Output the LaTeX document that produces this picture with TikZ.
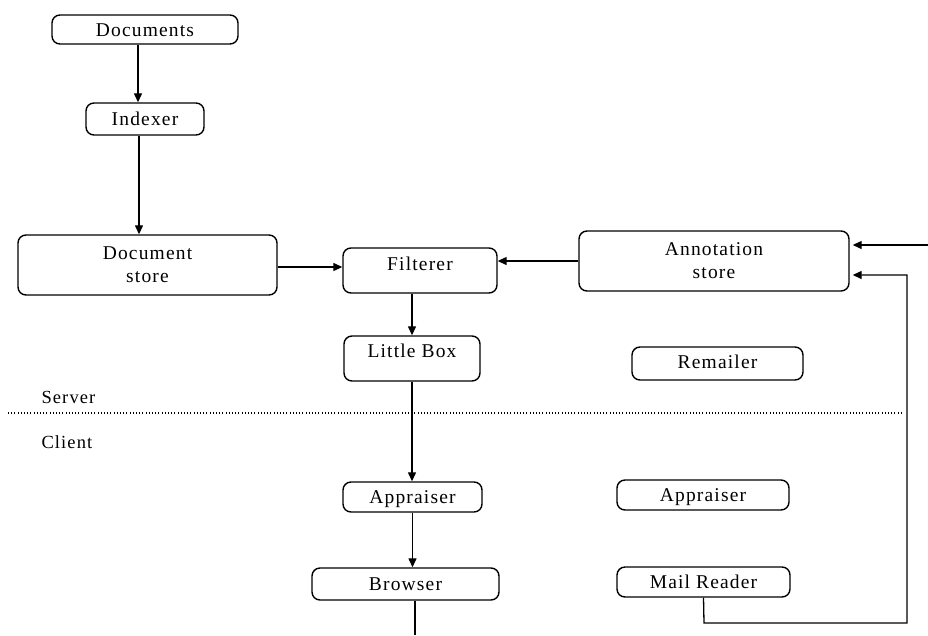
\documentclass[tikz,border=0pt]{standalone}
\usepackage{fontspec}
\setmainfont{Liberation Serif}[LetterSpace=6]
\usetikzlibrary{arrows.meta}

\begin{document}
\begin{tikzpicture}[x=1pt, y=-1pt,
  box/.style={draw, line width=1.4pt, rounded corners=8pt, inner sep=0pt,
    font=\fontsize{19.5}{23}\selectfont, align=center},
  onerow/.style={box, text height=14pt},
  conn/.style={line width=1.3pt},
  arr/.style={conn, -{Triangle[length=9pt, width=8pt]}},
  sep/.style={line width=1.1pt, dash pattern=on 1pt off 2.2pt},
  side/.style={font=\fontsize{18.5}{20}\selectfont, anchor=west}]

  \useasboundingbox (0,0) rectangle (928,635);

  % server side
  \node[onerow, minimum width=186pt, minimum height=29pt, text depth=0pt]
    (docs) at (145,29.5) {Documents};
  \node[onerow, minimum width=118pt, minimum height=32pt, text depth=2pt]
    (idx) at (145,119) {Indexer};
  \node[box, minimum width=259pt, minimum height=60pt]
    (dstore) at (147.5,265) {Document\\store};
  \node[onerow, minimum width=154pt, minimum height=45pt, text depth=15pt]
    (filt) at (420,270.5) {Filterer};
  \node[onerow, minimum width=136pt, minimum height=45pt, text depth=16pt]
    (lbox) at (412,358.5) {Little Box};
  \node[box, minimum width=270pt, minimum height=60pt]
    (annot) at (714,261) {Annotation\\store};
  \node[onerow, minimum width=171pt, minimum height=33pt, text depth=5pt]
    (remail) at (717.5,363.5) {Remailer};

  % client side
  \node[onerow, minimum width=139pt, minimum height=30pt, text depth=1pt]
    (appl) at (412.5,497) {Appraiser};
  \node[onerow, minimum width=187pt, minimum height=32pt, text depth=2pt]
    (brow) at (405.5,584) {Browser};
  \node[onerow, minimum width=172pt, minimum height=30pt, text depth=1pt]
    (appr) at (703,495) {Appraiser};
  \node[onerow, minimum width=173pt, minimum height=30pt, text depth=2pt]
    (mail) at (703.5,582) {Mail Reader};

  % server / client divide
  \coordinate (sepL) at (8,413);
  \coordinate (sepR) at (902,413);
  \draw[sep] (sepL) -- (sepR);
  \node[side] (server) at (38,397) {Server};
  \node[side] (client) at (38,442) {Client};

  % free ends and bends
  \coordinate (feed) at (928,245);
  \coordinate (bottom) at (415,635);
  \coordinate (mailLow) at (704,623);
  \coordinate (retCorner) at (907,623);
  \coordinate (retTop) at (907,275);

  % connectors
  \draw[arr] ([xshift=-7pt]docs.south) -- ([xshift=-7pt]idx.north);
  \draw[arr] ([xshift=-6pt]idx.south) -- ([xshift=-8.5pt]dstore.north);
  \draw[arr] ([yshift=-2pt]dstore.east) -- ([yshift=-2pt]dstore.east -| filt.west);
  \draw[arr] (annot.west) -- (annot.west -| filt.east);
  \draw[arr] (filt.south -| lbox.north) -- (lbox.north);
  \draw[arr] (lbox.south) -- (lbox.south |- appl.north);
  \draw[arr] (appl.south) -- (appl.south |- brow.north);
  \draw[conn] (brow.south -| bottom) -- (bottom);
  \draw[arr, shorten >=3pt] (feed) -- (feed -| annot.east);
  \draw[arr, shorten >=3pt] (mail.south) -- (mailLow) -- (retCorner)
    -- (retTop) -- (retTop -| annot.east);
\end{tikzpicture}
\end{document}
